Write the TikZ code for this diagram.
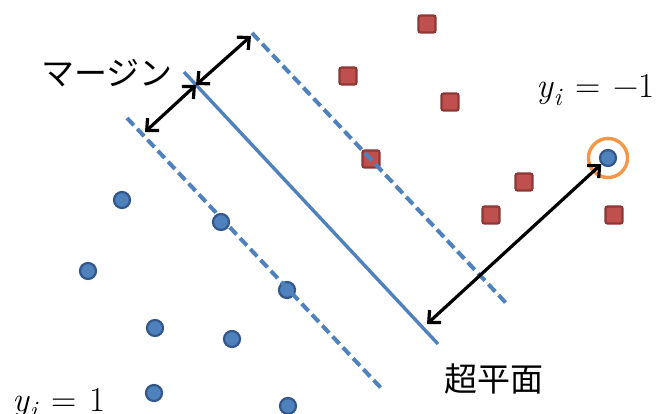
\documentclass[tikz,border=0pt]{standalone}
\usepackage{fontspec}
\newfontfamily\jpfont{Noto Sans CJK JP}
\usetikzlibrary{arrows.meta}
\definecolor{hblue}{HTML}{4F81BD}
\definecolor{dblue}{HTML}{33578A}
\definecolor{sred}{HTML}{C0504D}
\definecolor{dred}{HTML}{8C3836}
\definecolor{orng}{HTML}{F79646}
\newcommand{\yi}{\textit{y}\raisebox{-0.22em}{\fontsize{25}{25}\selectfont\textit{i}}}
\newcommand{\eqsp}{\hspace{0.36em}=\hspace{0.36em}}
\begin{document}
\begin{tikzpicture}[x=1pt,y=-1pt,
  posdot/.style={circle,fill=hblue,draw=dblue,line width=2.2pt,minimum size=16pt,inner sep=0pt},
  negsq/.style={rectangle,rounded corners=2pt,fill=sred,draw=dred,line width=2.2pt,minimum size=17pt,inner sep=0pt},
  hyper/.style={hblue,line width=3.4pt},
  marginline/.style={hblue,line width=4pt,dash pattern=on 10pt off 5pt},
  dbl/.style={black,line width=3.2pt,{Straight Barb[length=9pt,width=17pt,line width=3.2pt]}-{Straight Barb[length=9pt,width=17pt,line width=3.2pt]}},
  ring/.style={circle,draw=orng,line width=3.4pt,minimum size=39pt,inner sep=0pt},
  jplabel/.style={font=\jpfont\fontsize{33}{38}\selectfont,inner sep=0pt},
  mathlabel/.style={font=\fontsize{35}{40}\selectfont,inner sep=0pt}]
\useasboundingbox (0,0) rectangle (659,414);

% data points
\node[posdot] (p1) at (122,200) {};
\node[posdot] (p2) at (221,222) {};
\node[posdot] (p3) at (88,271) {};
\node[posdot] (p4) at (287,290) {};
\node[posdot] (p5) at (155,328) {};
\node[posdot] (p6) at (232,339) {};
\node[posdot] (p7) at (154,393) {};
\node[posdot] (p8) at (288,406) {};
\node[negsq] (n1) at (427,24) {};
\node[negsq] (n2) at (348,76) {};
\node[negsq] (n3) at (450,102) {};
\node[negsq] (n4) at (371,159) {};
\node[negsq] (n5) at (524,182) {};
\node[negsq] (n6) at (491,215) {};
\node[negsq] (n7) at (614,215) {};

% hyperplane and margins
\coordinate (h1) at (184,72);
\coordinate (h2) at (438,344);
\coordinate (u1) at (252,33);
\coordinate (u2) at (506,303);
\coordinate (l1) at (127,118);
\coordinate (l2) at (381,388);
\draw[marginline] (u1) -- (u2);
\draw[marginline] (l1) -- (l2);
\draw[hyper] (h1) -- (h2);

% margin arrows
\coordinate (m) at (196,85);
\coordinate (mu) at (251,36);
\coordinate (ml) at (145,132);
\draw[dbl] (m) -- (mu);
\draw[dbl] (m) -- (ml);

% support vector
\node[posdot] (sv) at (608,158) {};
\node[ring] (svring) at (sv.center) {};
\coordinate (foot) at (427,324);
\draw[dbl] (sv) -- (foot);

% labels
\node[jplabel] (margin) at (107,73) {マージン};
\node[jplabel] (hyperlabel) at (494,379) {超平面};
\node[mathlabel,anchor=base west] (yneg) at (536,98) {\yi\eqsp−1};
\node[mathlabel,anchor=base west] (ypos) at (12,411) {\yi\eqsp 1};
\end{tikzpicture}
\end{document}
